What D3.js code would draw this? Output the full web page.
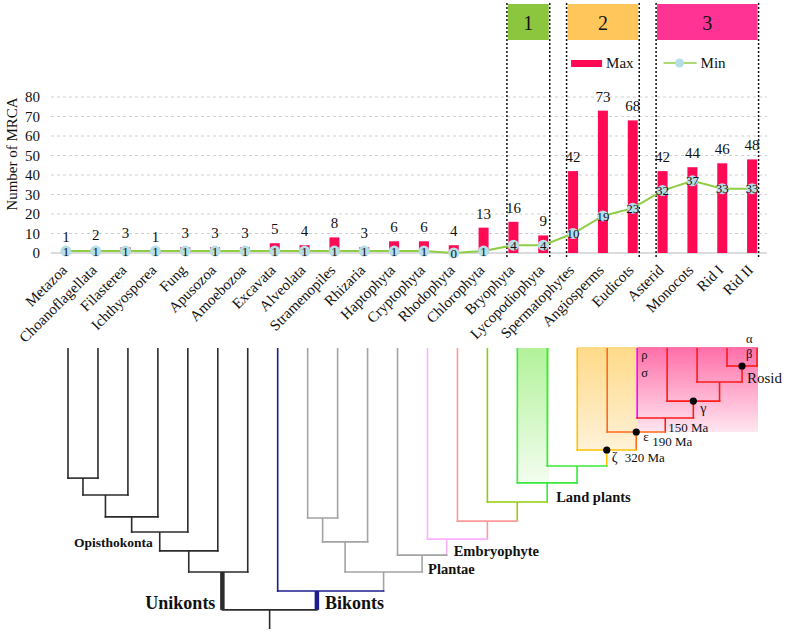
<!DOCTYPE html>
<html><head><meta charset="utf-8">
<script src="https://cdn.jsdelivr.net/npm/d3@7"></script>
<style>body{margin:0;background:#fff} svg{display:block} text{font-family:"Liberation Serif","Times New Roman",serif;fill:#111}</style>
</head><body><svg id="c" width="787" height="635"></svg>
<script>
// ---------- DATA ----------
const categories = ["Metazoa","Choanoflagellata","Filasterea","Ichthyosporea","Fung","Apusozoa","Amoebozoa","Excavata","Alveolata","Stramenopiles","Rhizaria","Haptophyta","Cryptophyta","Rhodophyta","Chlorophyta","Bryophyta","Lycopodiophyta","Spermatophytes","Angiosperms","Eudicots","Asterid","Monocots","Rid I","Rid II"];
const maxValues = [1,2,3,1,3,3,3,5,4,8,3,6,6,4,13,16,9,42,73,68,42,44,46,48];
const minValues = [1,1,1,1,1,1,1,1,1,1,1,1,1,0,1,4,4,10,19,23,32,37,33,33];
const yTicks = [0,10,20,30,40,50,60,70,80];
const groupLabels = ["1","2","3"];
const groupFrom = ["Bryophyta","Spermatophytes","Asterid"];
const groupTo = ["Lycopodiophyta","Eudicots","Rid II"];
const seriesNames = ["Max","Min"];

// dendrogram: children are leaf (category) indices or node ids; h = branch height (0 = leaves, 100 = root base)
const treeIds = ["U1","U2","U3","U4","U5","Uni","G1","G2","R","H","Gm","F","E","Z","L2","LP","YG","S","Emb","Plantae","P","Bik","Root"];
const treeChildren = [[0,1],["U1",2],["U2",3],["U3",4],["U4",5],["U5",6],[8,9],["G1",10],[22,23],[21,"R"],[20,"H"],[19,"Gm"],[18,"F"],[17,"E"],[16,"Z"],[15,"L2"],[14,"LP"],[13,"YG"],[12,"S"],[11,"Emb"],["G2","Plantae"],[7,"P"],["Uni","Bik"]];
const treeHeights = [46.3,52.3,60.1,65.5,72.2,79.7,60.5,69.0,6.4,12.1,18.9,24.9,29.9,36.3,42.0,48.0,54.8,61.6,68.0,73.7,79.7,86.5,93.2];
const treeLabels = [["U4","Opisthokonta"],["Uni","Unikonts"],["Bik","Bikonts"],["Plantae","Plantae"],["Emb","Embryophyte"],["LP","Land plants"],["Z","ζ"],["Z","320 Ma"],["E","ε"],["E","190 Ma"],["F","150 Ma"],["Gm","γ"],["R","Rosid"]];
const leafGreek = [[19,"ρ"],[19,"σ"],[23,"α"],[23,"β"]];
const datedNodes = ["Z","E","Gm","R"];

// ---------- STYLE ----------
const W=787,H=635;
const svg=d3.select("#c");
const x=d3.scaleBand().domain(categories).range([51,767]);
const y=d3.scaleLinear().domain([0,80]).range([253,97]);
const cx=c=>x(c)+x.bandwidth()/2;
const barColor="#ff0a55", lineColor="#8fcd45", dotColor="#b5dee6";
const groupColors=["#8cc63f","#ffc65c","#ff3394"];

// grid
svg.append("g").selectAll("line").data(yTicks.filter(t=>t>0)).join("line")
 .attr("x1",51).attr("x2",767).attr("y1",d=>y(d)).attr("y2",d=>y(d))
 .attr("stroke","#d0d0d0").attr("stroke-dasharray","3,3");
svg.append("line").attr("x1",51).attr("x2",767).attr("y1",y(0)).attr("y2",y(0)).attr("stroke","#dcdcdc").attr("stroke-width",2);

// y axis
const ya=svg.append("g").attr("transform","translate(44,0)").call(d3.axisLeft(y).tickValues(yTicks).tickSize(0).tickPadding(4));
ya.select(".domain").remove();
ya.selectAll("text").style("font-family","Liberation Serif").style("font-size","15px").attr("fill","#111");
svg.append("text").attr("transform","translate(17,154) rotate(-90)").attr("text-anchor","middle").style("font-size","15px").text("Number of MRCA");

// x labels
svg.append("g").selectAll("text").data(categories).join("text")
 .attr("transform",d=>`translate(${cx(d)+2},271) rotate(-45)`).attr("text-anchor","end")
 .style("font-size","15px").text(d=>d);

// group boxes
groupLabels.forEach((g,i)=>{
  const l=cx(groupFrom[i])-6.5, r=cx(groupTo[i])+6.5;
  svg.append("rect").attr("x",l+1).attr("y",4).attr("width",r-l-2).attr("height",36).attr("fill",groupColors[i]);
  svg.append("text").attr("x",(l+r)/2).attr("y",30).attr("text-anchor","middle").style("font-size","20px").text(g);
  [l,r].forEach(v=>svg.append("line").attr("x1",v).attr("x2",v).attr("y1",3).attr("y2",258)
    .attr("stroke","#111").attr("stroke-width",1.5).attr("stroke-dasharray","2,2"));
});

// bars
const bw=10;
svg.append("g").selectAll("rect").data(categories).join("rect")
 .attr("x",(d)=>cx(d)-bw/2).attr("width",bw)
 .attr("y",(d,i)=>y(maxValues[i])).attr("height",(d,i)=>y(0)-y(maxValues[i])).attr("fill",barColor);
// max labels
svg.append("g").selectAll("text").data(categories).join("text")
 .attr("x",d=>cx(d)).attr("y",(d,i)=>y(maxValues[i])-9).attr("text-anchor","middle").style("font-size","15px")
 .text((d,i)=>maxValues[i]);
// min line
svg.append("path").datum(categories).attr("fill","none").attr("stroke",lineColor).attr("stroke-width",2)
 .attr("d",d3.line().x(d=>cx(d)).y((d,i)=>y(minValues[i])));
svg.append("g").selectAll("circle").data(categories).join("circle")
 .attr("cx",d=>cx(d)).attr("cy",(d,i)=>y(minValues[i])).attr("r",5.5).attr("fill",dotColor);
svg.append("g").selectAll("text").data(categories).join("text")
 .attr("x",d=>cx(d)).attr("y",(d,i)=>y(minValues[i])).attr("dy","0.35em").attr("text-anchor","middle").style("font-size","13px")
 .text((d,i)=>minValues[i]);

// legend
const lg2=cx(groupFrom[1])-2, lg3=cx(groupFrom[2])+1;
svg.append("rect").attr("x",lg2).attr("y",60).attr("width",31).attr("height",7).attr("fill",barColor);
svg.append("text").attr("x",lg2+35).attr("y",68).style("font-size","15px").text(seriesNames[0]);
svg.append("line").attr("x1",lg3).attr("x2",lg3+33).attr("y1",63).attr("y2",63).attr("stroke",lineColor).attr("stroke-width",1.5);
svg.append("circle").attr("cx",lg3+16).attr("cy",63).attr("r",4.5).attr("fill",dotColor);
svg.append("text").attr("x",lg3+37).attr("y",68).style("font-size","15px").text(seriesNames[1]);

// ---------- TREE ----------
const xt=d3.scaleLinear().domain([0,categories.length-1]).range([68,757]);
const yt=d3.scaleLinear().domain([0,100]).range([348,629]);
const C={k:"#2b2b2b",b:"#1c1c8c",g:"#a3a3a3",p:"#ffb0ff",s:"#ff9a9a",yg:"#92cc10",gr:"#38ea38",y:"#ffc000",o:"#ff6a1a",m:"#ff00ff",r:"#ff1a1a"};
const leafColor=i=>i<7?C.k:i===7?C.b:i<12?C.g:i===12?C.p:i===13?C.s:i===14?C.yg:i<17?C.gr:i===17?C.y:i===18?C.o:i===19?C.m:C.r;
const nodeColor={U1:C.k,U2:C.k,U3:C.k,U4:C.k,U5:C.k,Uni:C.k,Root:C.k,Bik:C.b,G1:C.g,G2:C.g,P:C.g,Plantae:C.g,Emb:C.p,S:C.s,YG:C.yg,LP:C.gr,L2:C.gr,Z:C.y,E:C.o,F:C.r,Gm:C.r,H:C.r,R:C.r};
const split={Uni:0.57,Bik:0.37,Emb:0.32};
const thick={Uni:1,Bik:1};
const nodes={};
treeIds.forEach((id,i)=>nodes[id]={id,ch:treeChildren[i],h:treeHeights[i]});
const px=c=>typeof c==="number"?xt(c):nodeX(nodes[c]);
const ph=c=>typeof c==="number"?0:nodes[c].h;
function nodeX(n){ if(n.x!==undefined) return n.x; const a=px(n.ch[0]),b=px(n.ch[1]); const f=split[n.id]??0.5; n.x=a+(b-a)*f; return n.x; }
treeIds.forEach(id=>nodeX(nodes[id]));

// gradient boxes
const defs=svg.append("defs");
function grad(id,c1,c2){const g=defs.append("linearGradient").attr("id",id).attr("x1",0).attr("x2",0).attr("y1",0).attr("y2",1);
 g.append("stop").attr("offset","0%").attr("stop-color",c1);g.append("stop").attr("offset","100%").attr("stop-color",c2);}
grad("gG","#b2f29a","#f3fdef");grad("gO","#ffda88","#fff2d8");grad("gP","#ff6ea8","#ffe6f0");
const tg=svg.append("g");
tg.append("rect").attr("x",xt(15)).attr("y",yt(0)).attr("width",xt(16)-xt(15)+2).attr("height",yt(nodes.LP.h)-yt(0)).attr("fill","url(#gG)");
tg.append("rect").attr("x",xt(17)).attr("y",yt(0)-1).attr("width",xt(19)-xt(17)).attr("height",yt(nodes.Z.h)-yt(0)+1).attr("fill","url(#gO)");
tg.append("rect").attr("x",xt(19)).attr("y",yt(0)-1).attr("width",xt(23)-xt(19)+1).attr("height",yt(nodes.E.h)-yt(0)+1).attr("fill","url(#gP)");

// branches
treeIds.forEach(id=>{
  const n=nodes[id];
  n.ch.forEach(c=>{
    const col=typeof c==="number"?leafColor(c):nodeColor[c];
    tg.append("line").attr("x1",px(c)).attr("x2",px(c)).attr("y1",yt(ph(c))).attr("y2",yt(n.h)+(thick[c]?0:0.8))
      .attr("stroke",col).attr("stroke-width",thick[c]?4.5:1.6);
  });
  tg.append("line").attr("x1",px(n.ch[0])-0.8).attr("x2",px(n.ch[1])+0.8).attr("y1",yt(n.h)).attr("y2",yt(n.h))
    .attr("stroke",nodeColor[id]).attr("stroke-width",1.6);
});
tg.append("line").attr("x1",nodes.Root.x).attr("x2",nodes.Root.x).attr("y1",yt(nodes.Root.h)).attr("y2",yt(100)).attr("stroke",C.k).attr("stroke-width",1.6);
datedNodes.forEach(id=>tg.append("circle").attr("cx",nodes[id].x).attr("cy",yt(nodes[id].h)).attr("r",3.6).attr("fill","#000"));

// tree labels
const lab=(t,xx,yy,size,bold,anchor)=>tg.append("text").attr("x",xx).attr("y",yy).attr("text-anchor",anchor||"start")
  .style("font-size",size+"px").style("font-weight",bold?"bold":"normal").text(t);
const NX=id=>nodes[id].x, NY=id=>yt(nodes[id].h);
treeLabels.forEach(([id,t])=>{
  if(t==="Opisthokonta") lab(t,NX(id)-7,NY("U5")-4,13.5,true,"end");
  else if(t==="Unikonts") lab(t,NX(id)-7,NY("Root")-1,18,true,"end");
  else if(t==="Bikonts") lab(t,NX(id)+8,NY("Root")-1,18,true);
  else if(t==="Plantae") lab(t,NX(id)+6,NY(id)+19,14.5,true);
  else if(t==="Embryophyte") lab(t,NX(id)+7,NY(id)+17,14.5,true);
  else if(t==="Land plants") lab(t,NX(id)+9,NY(id)+19,14.5,true);
  else if(t==="ζ") lab(t,NX(id)+5,NY(id)+12,14);
  else if(t==="320 Ma") lab(t,NX(id)+18,NY(id)+12,13);
  else if(t==="ε") lab(t,NX(id)+7,NY(id)+9,13);
  else if(t==="190 Ma") lab(t,NX(id)+16,NY(id)+14,13);
  else if(t==="150 Ma") lab(t,NX(id)+3,NY(id)+14,13);
  else if(t==="γ") lab(t,NX(id)+7,NY(id)+12,14);
  else if(t==="Rosid") lab(t,NX(id)+5,NY(id)+17,15);
});
leafGreek.forEach(([i,t],k)=>{
  const off=[11,29,-5,10][k];
  lab(t,xt(i)+(i===19?4:-11),yt(0)+off,12.5);
});
</script></body></html>
